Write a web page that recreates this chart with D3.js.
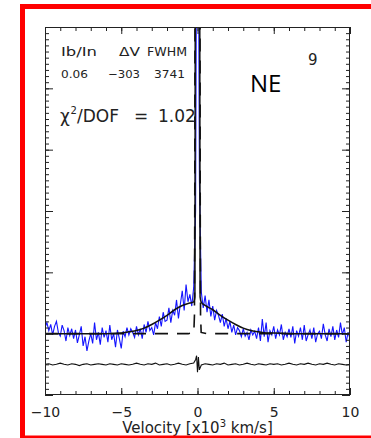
<!DOCTYPE html>
<html lang="en">
<head>
<meta charset="utf-8" />
<title>NE spectrum fit</title>
<script src="https://d3js.org/d3.v7.min.js"></script>
<style>
  html, body { margin: 0; padding: 0; background: #fff; overflow: hidden; }
  svg { display: block; }
</style>
</head>
<body>
<svg id="spectrum" width="371" height="438"></svg>
<script>
// observed spectrum: velocity channels (x10^3 km/s) and flux
const velocity = [
  -10, -9.875, -9.75, -9.625, -9.5, -9.375, -9.25, -9.125,
  -9, -8.875, -8.75, -8.625, -8.5, -8.375, -8.25, -8.125,
  -8, -7.875, -7.75, -7.625, -7.5, -7.375, -7.25, -7.125,
  -7, -6.875, -6.75, -6.625, -6.5, -6.375, -6.25, -6.125,
  -6, -5.875, -5.75, -5.625, -5.5, -5.375, -5.25, -5.125,
  -5, -4.875, -4.75, -4.625, -4.5, -4.375, -4.25, -4.125,
  -4, -3.875, -3.75, -3.625, -3.5, -3.375, -3.25, -3.125,
  -3, -2.875, -2.75, -2.625, -2.5, -2.375, -2.25, -2.125,
  -2, -1.875, -1.75, -1.625, -1.5, -1.375, -1.25, -1.125,
  -1, -0.875, -0.75, -0.625, -0.5, -0.375, -0.25, -0.125,
  0, 0.125, 0.25, 0.375, 0.5, 0.625, 0.75, 0.875,
  1, 1.125, 1.25, 1.375, 1.5, 1.625, 1.75, 1.875,
  2, 2.125, 2.25, 2.375, 2.5, 2.625, 2.75, 2.875,
  3, 3.125, 3.25, 3.375, 3.5, 3.625, 3.75, 3.875,
  4, 4.125, 4.25, 4.375, 4.5, 4.625, 4.75, 4.875,
  5, 5.125, 5.25, 5.375, 5.5, 5.625, 5.75, 5.875,
  6, 6.125, 6.25, 6.375, 6.5, 6.625, 6.75, 6.875,
  7, 7.125, 7.25, 7.375, 7.5, 7.625, 7.75, 7.875,
  8, 8.125, 8.25, 8.375, 8.5, 8.625, 8.75, 8.875,
  9, 9.125, 9.25, 9.375, 9.5, 9.625, 9.75, 9.875, 10
];
const flux = [
  1.10, 1.18, 1.05, 1.15, 0.98, 1.12, 1.20, 1.02,
  0.96, 1.14, 1.05, 0.88, 1.10, 0.97, 1.08, 0.92,
  1.06, 0.85, 0.98, 1.12, 0.80, 0.95, 0.72, 0.88,
  1.00, 0.84, 1.18, 0.90, 1.02, 0.82, 1.10, 0.94,
  1.05, 0.86, 1.14, 0.90, 1.00, 0.78, 1.06, 0.92,
  0.76, 1.04, 0.95, 1.10, 0.98, 1.08, 1.02, 0.94,
  1.12, 0.98, 1.08, 0.92, 1.15, 1.02, 1.20, 1.05,
  1.10, 0.98, 1.18, 1.08, 1.28, 1.12, 1.35, 1.20,
  1.22, 1.42, 1.18, 1.38, 1.30, 1.55, 1.25, 1.48,
  1.70, 1.38, 1.80, 1.52, 1.64, 1.45, 1.75, 3.00,
  12.0, 3.50, 1.68, 1.42, 1.62, 1.35, 1.55, 1.28,
  1.45, 1.22, 1.38, 1.30, 1.18, 1.32, 1.12, 1.25,
  1.08, 1.20, 1.02, 1.14, 0.98, 1.10, 1.05, 0.95,
  1.08, 0.96, 1.02, 0.90, 1.06, 0.98, 1.04, 0.92,
  1.10, 0.88, 1.24, 0.95, 1.18, 0.86, 1.05, 0.98,
  1.12, 0.92, 1.06, 0.98, 1.15, 0.90, 1.02, 0.95,
  1.08, 0.94, 1.12, 0.84, 1.05, 0.96, 1.10, 0.90,
  1.14, 0.88, 0.98, 1.06, 0.92, 1.10, 0.86, 1.00,
  1.04, 0.92, 1.16, 0.98, 0.88, 1.08, 0.95, 1.12,
  0.90, 1.06, 0.94, 1.18, 0.98, 1.10, 0.86, 1.02, 0.92
];

// total fit (continuum + broad + narrow), solid
const fitVelocity = [-10, -6, -5, -4.5, -4, -3.5, -3, -2.5, -2, -1.5, -1, -0.5, -0.25,
  -0.17, -0.15, -0.12, -0.06, 0, 0.06, 0.12, 0.15, 0.17,
  0.25, 0.5, 1, 1.5, 2, 2.5, 3, 3.5, 4, 4.5, 5, 6, 10];
const fitTotal = [1.00, 1.00, 1.01, 1.03, 1.05, 1.09, 1.15, 1.22, 1.30, 1.39, 1.46, 1.50, 1.52,
  1.60, 6.0, 14, 26, 32, 26, 14, 6.0, 1.60,
  1.51, 1.46, 1.39, 1.30, 1.22, 1.15, 1.09, 1.05, 1.03, 1.01, 1.01, 1.00, 1.00];

// narrow component on top of continuum, dashed
const narrowVelocity = [-10, -0.6, -0.24, -0.2, -0.18, -0.16, -0.1, 0, 0.1, 0.16, 0.18, 0.2, 0.24, 0.6, 10];
const narrowComp = [1.00, 1.00, 1.02, 1.30, 3.0, 7.0, 19, 30, 19, 7.0, 3.0, 1.30, 1.02, 1.00, 1.00];

// residuals, offset to 0.5
const residVelocity = [
  -10, -9.75, -9.5, -9.25, -9, -8.75, -8.5, -8.25, -8, -7.75, -7.5, -7.25, -7, -6.75, -6.5, -6.25, -6, -5.75, -5.5, -5.25, -5,
  -4.75, -4.5, -4.25, -4, -3.75, -3.5, -3.25, -3, -2.75, -2.5, -2.25, -2, -1.75, -1.5, -1.25, -1, -0.75, -0.5, -0.25,
  -0.12, -0.06, 0, 0.06, 0.12,
  0.25, 0.5, 0.75, 1, 1.25, 1.5, 1.75, 2, 2.25, 2.5, 2.75, 3, 3.25, 3.5, 3.75, 4, 4.25, 4.5, 4.75, 5,
  5.25, 5.5, 5.75, 6, 6.25, 6.5, 6.75, 7, 7.25, 7.5, 7.75, 8, 8.25, 8.5, 8.75, 9, 9.25, 9.5, 9.75, 10
];
const residual = [
  0.50, 0.51, 0.49, 0.50, 0.52, 0.50, 0.49, 0.51, 0.50, 0.48, 0.50, 0.51, 0.49, 0.50, 0.51, 0.50, 0.49, 0.51, 0.50, 0.49, 0.51,
  0.50, 0.49, 0.50, 0.52, 0.50, 0.49, 0.51, 0.50, 0.52, 0.49, 0.50, 0.51, 0.49, 0.50, 0.52, 0.50, 0.49, 0.51, 0.52,
  0.58, 0.64, 0.37, 0.62, 0.41,
  0.49, 0.51, 0.50, 0.49, 0.51, 0.50, 0.52, 0.49, 0.50, 0.51, 0.49, 0.50, 0.52, 0.50, 0.49, 0.51, 0.50, 0.49, 0.51, 0.50,
  0.51, 0.49, 0.50, 0.52, 0.50, 0.49, 0.51, 0.50, 0.52, 0.50, 0.49, 0.51, 0.50, 0.52, 0.50, 0.49, 0.51, 0.50, 0.49, 0.50
];

// ticks and annotation text
const xMajorTicks = [-10, -5, 0, 5, 10];
const yMajorTicks = [0, 1, 2, 3, 4, 5];
const paramNames = ["Ib/In", "ΔV", "FWHM"];
const paramValues = ["0.06", "−303", "3741"];
const chi2Value = "1.02";
const regionLabel = "NE";
const panelLabel = "9";

const svg = d3.select("#spectrum");
const frame = { left: 45, right: 350, top: 27, bottom: 395 };

const xScale = d3.scaleLinear().domain([-10, 10]).range([frame.left, frame.right]);
const yScale = d3.scaleLinear().domain([0, 6]).range([frame.bottom, frame.top]);

// white page behind everything
svg.append("rect")
  .attr("width", 371).attr("height", 438)
  .attr("fill", "#fff");

svg.append("clipPath").attr("id", "plot-clip")
  .append("rect")
  .attr("x", frame.left).attr("y", frame.top)
  .attr("width", frame.right - frame.left)
  .attr("height", frame.bottom - frame.top);

const plot = svg.append("g").attr("clip-path", "url(#plot-clip)");

const line = (xs, ys, curve) => d3.line()
  .x((d, i) => xScale(xs[i]))
  .y(d => yScale(d))
  .curve(curve)(ys);

// observed spectrum
plot.append("path")
  .attr("d", line(velocity, flux, d3.curveLinear))
  .attr("fill", "none")
  .attr("stroke", "#1414ff")
  .attr("stroke-width", 1.1);

// narrow component + continuum (dashed)
plot.append("path")
  .attr("d", line(narrowVelocity, narrowComp, d3.curveLinear))
  .attr("fill", "none")
  .attr("stroke", "#111")
  .attr("stroke-width", 1.6)
  .attr("stroke-dasharray", "13,9");

// total fit
plot.append("path")
  .attr("d", line(fitVelocity, fitTotal, d3.curveMonotoneX))
  .attr("fill", "none")
  .attr("stroke", "#111")
  .attr("stroke-width", 1.5);

// residuals
plot.append("path")
  .attr("d", line(residVelocity, residual, d3.curveLinear))
  .attr("fill", "none")
  .attr("stroke", "#111")
  .attr("stroke-width", 1.1);

// axes: ticks point inward on all four sides
const tickStyle = g => {
  g.select(".domain").remove();
  g.selectAll("line").attr("stroke", "#222");
};
const xMinor = d3.range(-10, 10.5, 1);
const yMinor = d3.range(0, 6, 0.1);

svg.append("g")
  .attr("transform", `translate(0, ${frame.bottom})`)
  .call(d3.axisBottom(xScale).tickValues(xMinor).tickSize(-4).tickFormat(""))
  .call(tickStyle);
const xAxis = svg.append("g")
  .attr("transform", `translate(0, ${frame.bottom})`)
  .call(d3.axisBottom(xScale).tickValues(xMajorTicks).tickSize(-7).tickPadding(12).tickFormat(d3.format("d")))
  .call(tickStyle);
xAxis.selectAll("text")
  .attr("fill", "#222")
  .style("font-family", "DejaVu Sans")
  .style("font-size", "14px");

svg.append("g")
  .attr("transform", `translate(0, ${frame.top})`)
  .call(d3.axisTop(xScale).tickValues(xMinor).tickSize(-4).tickFormat(""))
  .call(tickStyle);
svg.append("g")
  .attr("transform", `translate(0, ${frame.top})`)
  .call(d3.axisTop(xScale).tickValues(xMajorTicks).tickSize(-7).tickFormat(""))
  .call(tickStyle);

svg.append("g")
  .attr("transform", `translate(${frame.left}, 0)`)
  .call(d3.axisLeft(yScale).tickValues(yMinor).tickSize(-4).tickFormat(""))
  .call(tickStyle);
svg.append("g")
  .attr("transform", `translate(${frame.left}, 0)`)
  .call(d3.axisLeft(yScale).tickValues(yMajorTicks).tickSize(-8).tickFormat(""))
  .call(tickStyle);
svg.append("g")
  .attr("transform", `translate(${frame.right}, 0)`)
  .call(d3.axisRight(yScale).tickValues(yMinor).tickSize(-4).tickFormat(""))
  .call(tickStyle);
svg.append("g")
  .attr("transform", `translate(${frame.right}, 0)`)
  .call(d3.axisRight(yScale).tickValues(yMajorTicks).tickSize(-8).tickFormat(""))
  .call(tickStyle);

// plot frame
svg.append("rect")
  .attr("x", frame.left + 0.5).attr("y", frame.top + 0.5)
  .attr("width", frame.right - frame.left - 1)
  .attr("height", frame.bottom - frame.top - 1)
  .attr("fill", "none")
  .attr("stroke", "#222");

// x axis title
const xTitle = svg.append("text")
  .attr("x", xScale(0))
  .attr("y", 433)
  .attr("text-anchor", "middle")
  .attr("fill", "#222")
  .style("font-family", "DejaVu Sans")
  .style("font-size", "15px");
xTitle.append("tspan").text("Velocity [x10");
xTitle.append("tspan").attr("dy", -6).style("font-size", "10px").text("3");
xTitle.append("tspan").attr("dy", 6).text(" km/s]");

// fit parameters
const note = svg.append("g")
  .attr("fill", "#222")
  .style("font-family", "DejaVu Sans");

const nameX = [61, 119, 147], nameW = [36, 21, 40];
const valueX = [61, 108, 154], valueW = [27, 32, 31];
paramNames.forEach((t, i) => {
  note.append("text")
    .attr("x", nameX[i]).attr("y", 56)
    .attr("textLength", nameW[i])
    .attr("lengthAdjust", "spacingAndGlyphs")
    .style("font-size", "12px")
    .text(t);
  note.append("text")
    .attr("x", valueX[i]).attr("y", 78)
    .attr("textLength", valueW[i])
    .attr("lengthAdjust", "spacingAndGlyphs")
    .style("font-size", "11px")
    .text(paramValues[i]);
});

const chi = note.append("text").attr("y", 122).style("font-size", "17px");
chi.append("tspan").attr("x", 60).text("χ");
chi.append("tspan").attr("x", 70.5).attr("dy", -8).style("font-size", "10px").text("2");
chi.append("tspan").attr("x", 77).attr("dy", 8).text("/DOF");
chi.append("tspan").attr("x", 134).text("=");
chi.append("tspan").attr("x", 158).text(chi2Value);

svg.append("text")
  .attr("x", 250).attr("y", 92)
  .style("font-family", "Open Sans")
  .style("font-size", "24px")
  .attr("fill", "#000")
  .text(regionLabel);

svg.append("text")
  .attr("x", 308).attr("y", 65)
  .style("font-family", "DejaVu Sans")
  .style("font-size", "15px")
  .attr("fill", "#222")
  .text(panelLabel);

// red outline around the panel
svg.append("rect")
  .attr("x", 22.5).attr("y", 6.5)
  .attr("width", 420).attr("height", 431.5)
  .attr("fill", "none")
  .attr("stroke", "#ff0000")
  .attr("stroke-width", 5);
</script>
</body>
</html>
